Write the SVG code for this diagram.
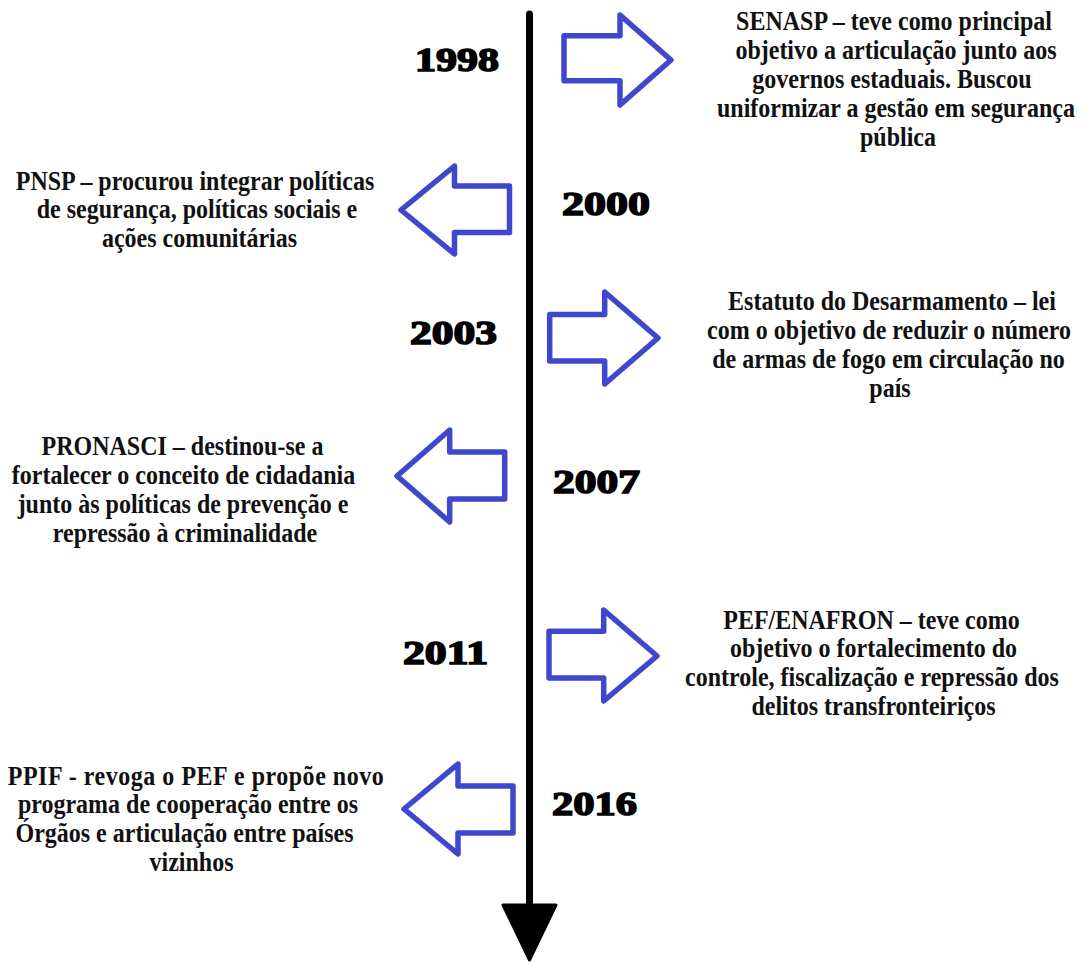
<svg xmlns="http://www.w3.org/2000/svg" width="1082" height="962" viewBox="0 0 1082 962">
<style>
.bg{fill:#ffffff}
.arr{fill:#ffffff;stroke:#3F48CC;stroke-width:5.5;stroke-linejoin:round}
.txt{font-family:"Liberation Serif","Times New Roman",serif;font-weight:bold;font-size:24px;fill:#111111;text-anchor:middle}
.yr{font-family:"Liberation Serif","Times New Roman",serif;font-weight:bold;font-size:34px;fill:#000000;stroke:#000000;stroke-width:1.6}
.axis{stroke:#000000;stroke-width:7;stroke-linecap:round;fill:none}
.axhead{fill:#000000;stroke:#000000;stroke-width:3;stroke-linejoin:round}
</style>
<rect class="bg" x="0" y="0" width="1082" height="962"/>
<g id="connectors">
  <line class="axis" x1="529.5" y1="14" x2="529.5" y2="908"/>
  <polygon class="axhead" points="503,905 556,905 529.5,960"/>
</g>
<g id="y1998">
  <text class="yr" x="415" y="71" textLength="84" lengthAdjust="spacingAndGlyphs">1998</text>
  <polygon class="arr" points="564,35.7 620,35.7 620,15 671,60 620,105 620,80.7 564,80.7"/>
  <text class="txt" transform="translate(0,30) scale(1,1.13)">
    <tspan x="897" y="0">SENASP – teve como principal</tspan>
    <tspan x="899" dy="25.6">objetivo a articulação junto aos</tspan>
    <tspan x="895" dy="25.6">governos estaduais. Buscou</tspan>
    <tspan x="899" dy="25.6">uniformizar a gestão em segurança</tspan>
    <tspan x="898" dy="25.6">pública</tspan>
  </text>
</g>
<g id="y2000">
  <text class="yr" x="562" y="215" textLength="88" lengthAdjust="spacingAndGlyphs">2000</text>
  <polygon class="arr" points="509.5,186 454.5,186 454.5,166 401,210 454.5,254 454.5,232.5 509.5,232.5"/>
  <text class="txt" transform="translate(0,189.5) scale(1,1.13)">
    <tspan x="198" y="0">PNSP – procurou integrar políticas</tspan>
    <tspan x="200" dy="25.4">de segurança, políticas sociais e</tspan>
    <tspan x="199.5" dy="25.4">ações comunitárias</tspan>
  </text>
</g>
<g id="y2003">
  <text class="yr" x="410" y="344" textLength="87" lengthAdjust="spacingAndGlyphs">2003</text>
  <polygon class="arr" points="549.7,314.5 604.7,314.5 604.7,292 658,338 604.7,384 604.7,361 549.7,361"/>
  <text class="txt" transform="translate(0,310) scale(1,1.13)">
    <tspan x="895" y="0">Estatuto do Desarmamento – lei</tspan>
    <tspan x="892" dy="25.6">com o objetivo de reduzir o número</tspan>
    <tspan x="891.5" dy="25.6">de armas de fogo em circulação no</tspan>
    <tspan x="890" dy="25.6">país</tspan>
  </text>
</g>
<g id="y2007">
  <text class="yr" x="553" y="493" textLength="87" lengthAdjust="spacingAndGlyphs">2007</text>
  <polygon class="arr" points="504.7,452 449.7,452 449.7,430 397,476 449.7,522 449.7,499 504.7,499"/>
  <text class="txt" transform="translate(0,454.5) scale(1,1.13)">
    <tspan x="185.5" y="0">PRONASCI – destinou-se a</tspan>
    <tspan x="186.5" dy="25.8">fortalecer o conceito de cidadania</tspan>
    <tspan x="186" dy="25.8">junto às políticas de prevenção e</tspan>
    <tspan x="185" dy="25.8">repressão à criminalidade</tspan>
  </text>
</g>
<g id="y2011">
  <text class="yr" x="403" y="664" textLength="85" lengthAdjust="spacingAndGlyphs">2011</text>
  <polygon class="arr" points="549,631.3 603.7,631.3 603.7,610 657,656 603.7,701 603.7,678 549,678"/>
  <text class="txt" transform="translate(0,628.5) scale(1,1.13)">
    <tspan x="874.5" y="0">PEF/ENAFRON – teve como</tspan>
    <tspan x="876.5" dy="25.6">objetivo o fortalecimento do</tspan>
    <tspan x="875" dy="25.6">controle, fiscalização e repressão dos</tspan>
    <tspan x="873.5" dy="25.6">delitos transfronteiriços</tspan>
  </text>
</g>
<g id="y2016">
  <text class="yr" x="552" y="815" textLength="85" lengthAdjust="spacingAndGlyphs">2016</text>
  <polygon class="arr" points="513,786 458,786 458,764 404,809 458,854 458,833 513,833"/>
  <text class="txt" transform="translate(0,784.5) scale(1,1.13)">
    <tspan x="199" y="0" textLength="376">PPIF - revoga o PEF e propõe novo</tspan>
    <tspan x="191" dy="25.4">programa de cooperação entre os</tspan>
    <tspan x="187.5" dy="25.4">Órgãos e articulação entre países</tspan>
    <tspan x="191.5" dy="25.4">vizinhos</tspan>
  </text>
</g>
</svg>
